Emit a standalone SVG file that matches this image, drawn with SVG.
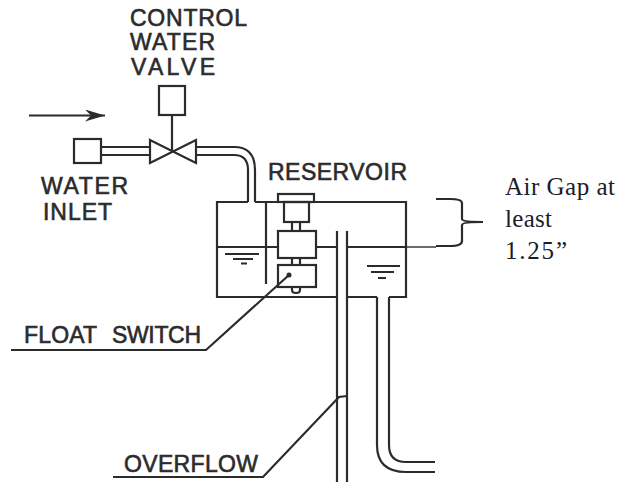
<svg xmlns="http://www.w3.org/2000/svg" width="620" height="482" viewBox="0 0 620 482">
<style>
.l{fill:none;stroke:#2b2b2b;stroke-width:2.200;stroke-linejoin:miter}
.t{fill:none;stroke:#2b2b2b;stroke-width:1.400}
.lb{font-family:"Liberation Sans",Arial,sans-serif;font-size:23px;fill:#2b2b2b;stroke:#2b2b2b;stroke-width:.6}
.n{font-family:"Liberation Serif","Times New Roman",serif;font-size:25px;fill:#1c1c2a}
</style>
<defs>
<marker id="ah" markerWidth="22" markerHeight="14" refX="20" refY="6" orient="auto" markerUnits="userSpaceOnUse"><path d="M0 0L20 6L0 12L6 6Z" fill="#2b2b2b"/></marker>
</defs>
<rect width="620" height="482" fill="#fff"/>
<g id="connectors">
<path class="l" d="M29 115.500H105" marker-end="url(#ah)"/>
<path class="l" d="M172 115V151"/>
<path class="l" d="M101 147H150M101 155H150"/>
<path class="l" d="M196 147H234Q255 147 255 170V202M196 155H234Q248 155 248 170V202"/>
<path class="l" d="M337 231V482M347 231V482"/>
<path class="l" d="M377 297V445Q377 472 406 472H435M389 297V445Q389 462 406 462H435"/>
<path class="l" d="M289 275L206 350H11"/>
<path class="l" d="M347 396L339 397L263 477H113"/>
<path class="t" d="M406 247H436"/>
<path class="l" d="M436 199H450Q462 199 462 203V219Q462 222 483 222Q462 222 462 225V241Q462 246 450 246H436"/>
</g>
<g id="control-valve-actuator"><rect class="l" x="159" y="86" width="26" height="29"/></g>
<g id="valve"><path class="l" d="M150 140V163L196 140V163Z"/></g>
<g id="water-inlet-box"><rect class="l" x="74" y="139" width="27" height="24"/></g>
<g id="reservoir">
<path class="l" d="M248 202H217V297H337M347 297H377M389 297H406V202H255"/>
<path class="l" d="M266 202V284"/>
<path class="l" d="M217 247H278M316 247H337M347 247H406"/>
<path class="l" d="M225 254H259M233 259H253M241 263.500H247"/>
<path class="l" d="M367 266H400M371 272H394M378 278H386"/>
</g>
<g id="float-switch">
<rect class="l" x="278" y="194" width="36" height="8"/>
<rect class="l" x="284" y="202" width="25" height="20"/>
<path class="l" d="M292 222V231M300 222V231"/>
<rect class="l" x="278" y="231" width="38" height="27"/>
<path class="l" d="M292 258V265M300 258V265"/>
<rect class="l" x="278" y="265" width="38" height="22"/>
<path class="l" d="M292 287V290Q292 293 296 293Q300 293 300 290V287"/>
<circle cx="289" cy="275" r="2.500" fill="#2b2b2b"/>
</g>
<g id="labels">
<text class="lb" x="130" y="26" textLength="117">CONTROL</text>
<text class="lb" x="130" y="50" textLength="85">WATER</text>
<text class="lb" x="131" y="75" textLength="84">VALVE</text>
<text class="lb" x="41" y="194" textLength="87">WATER</text>
<text class="lb" x="43" y="220" textLength="69">INLET</text>
<text class="lb" x="268" y="180" textLength="139">RESERVOIR</text>
<text class="lb" x="24" y="343" textLength="73">FLOAT</text>
<text class="lb" x="112" y="343" textLength="89">SWITCH</text>
<text class="lb" x="124" y="472" textLength="134">OVERFLOW</text>
<text class="n" x="505" y="195" textLength="110">Air Gap at</text>
<text class="n" x="505" y="227" textLength="47">least</text>
<text class="n" x="505" y="259" textLength="62">1.25”</text>
</g>
</svg>
